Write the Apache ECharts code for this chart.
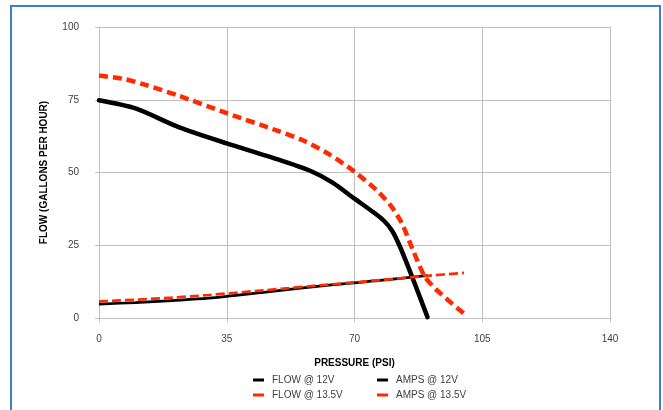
<!DOCTYPE html>
<html>
<head>
<meta charset="utf-8">
<script src="https://cdn.jsdelivr.net/npm/echarts@6/dist/echarts.min.js"></script>
<style>html,body{margin:0;padding:0;background:#fff}#c{width:663px;height:410px}</style>
</head>
<body>
<div id="c"></div>
<script>
const seriesNames = ['FLOW @ 12V', 'AMPS @ 12V', 'FLOW @ 13.5V', 'AMPS @ 13.5V'];
const xTicks = [0, 35, 70, 105, 140];
const yTicks = [0, 25, 50, 75, 100];

const flow12X = [0, 10, 22, 35, 49, 58, 64, 70, 75, 78, 80.3, 82.5, 85.8, 90];
const flow12Y = [74.8, 72, 65.5, 60, 54.5, 50.5, 46.5, 41, 36.5, 33.5, 30, 24.4, 14.1, 0.3];

const amps12X = [0, 10, 20, 30, 45, 63, 77, 90];
const amps12Y = [4.8, 5.3, 6, 6.8, 8.8, 11.3, 12.9, 14.6];

const flow135X = [0, 7, 13, 22, 35, 49, 56, 63, 70, 76, 80, 83, 85.8, 89.3, 93.4, 100];
const flow135Y = [83.3, 82.1, 80, 76.3, 70.4, 64.3, 61, 56.3, 50.3, 44, 38.5, 32.5, 24, 14.1, 8.6, 1.5];

const amps135X = [0, 10, 20, 30, 45, 63, 77, 90, 100];
const amps135Y = [5.7, 6.3, 7, 7.9, 9.5, 11.5, 13, 14.5, 15.5];

const zip = (xs, ys) => xs.map((x, i) => [x, ys[i]]);

const RED = '#ff2a00';
const FONT = 'Liberation Sans, Arial, sans-serif';

const chart = echarts.init(document.getElementById('c'), null, {renderer: 'canvas'});

function legendAt(name, left, top, color) {
  return {
    data: [{name: name, icon: 'rect', itemStyle: {color: color, borderWidth: 0}, lineStyle: {width: 0}}],
    left: left, top: top, itemWidth: 11, itemHeight: 3, itemGap: 0, padding: 0,
    textStyle: {fontFamily: FONT, fontSize: 10, color: '#404040', padding: [0, 0, 0, 3]},
    selectedMode: false
  };
}

chart.setOption({
  animation: false,
  backgroundColor: '#fff',
  grid: {left: 99, right: 53, top: 27, bottom: 92, containLabel: false},
  graphic: [{
    type: 'rect', shape: {x: 11, y: 6, width: 649, height: 430},
    style: {fill: 'none', stroke: '#3a80c6', lineWidth: 2}, silent: true, z: 100
  }],
  legend: [
    legendAt(seriesNames[0], 253, 375, '#000'),
    legendAt(seriesNames[1], 377, 375, '#000'),
    legendAt(seriesNames[2], 253, 390, RED),
    legendAt(seriesNames[3], 377, 390, RED)
  ],
  xAxis: {
    type: 'value', min: xTicks[0], max: xTicks[xTicks.length - 1], interval: xTicks[1] - xTicks[0],
    name: 'PRESSURE (PSI)', nameLocation: 'middle', nameGap: 40,
    nameTextStyle: {fontFamily: FONT, fontSize: 10, fontWeight: 'bold', color: '#000'},
    axisLine: {show: true, onZero: false, lineStyle: {color: '#c0c0c0', width: 1}},
    axisTick: {show: true, length: 4, lineStyle: {color: '#c0c0c0'}},
    axisLabel: {fontFamily: FONT, fontSize: 10, color: '#404040', margin: 16},
    splitLine: {show: true, lineStyle: {color: '#c0c0c0', width: 1}}
  },
  yAxis: {
    type: 'value', min: yTicks[0], max: yTicks[yTicks.length - 1], interval: yTicks[1] - yTicks[0],
    name: 'FLOW (GALLONS PER HOUR)', nameLocation: 'middle', nameGap: 50,
    nameTextStyle: {fontFamily: FONT, fontSize: 10, fontWeight: 'bold', color: '#000'},
    axisLine: {show: true, lineStyle: {color: '#c0c0c0', width: 1}},
    axisTick: {show: true, length: 4, lineStyle: {color: '#c0c0c0'}},
    axisLabel: {fontFamily: FONT, fontSize: 10, color: '#404040', margin: 20},
    splitLine: {show: true, lineStyle: {color: '#c0c0c0', width: 1}}
  },
  series: [
    {name: seriesNames[0], type: 'line', data: zip(flow12X, flow12Y), smooth: 0.25, showSymbol: false,
     lineStyle: {color: '#000', width: 4.5, cap: 'round'}, itemStyle: {color: '#000'}},
    {name: seriesNames[1], type: 'line', data: zip(amps12X, amps12Y), smooth: 0.3, showSymbol: false,
     lineStyle: {color: '#000', width: 2.7}, itemStyle: {color: '#000'}},
    {name: seriesNames[2], type: 'line', data: zip(flow135X, flow135Y), smooth: 0.25, showSymbol: false,
     lineStyle: {color: RED, width: 4.5, type: [9, 5]}, itemStyle: {color: RED}},
    {name: seriesNames[3], type: 'line', data: zip(amps135X, amps135Y), smooth: 0.3, showSymbol: false,
     lineStyle: {color: RED, width: 2.7, type: [9, 4]}, itemStyle: {color: RED}}
  ]
});
</script>
</body>
</html>
